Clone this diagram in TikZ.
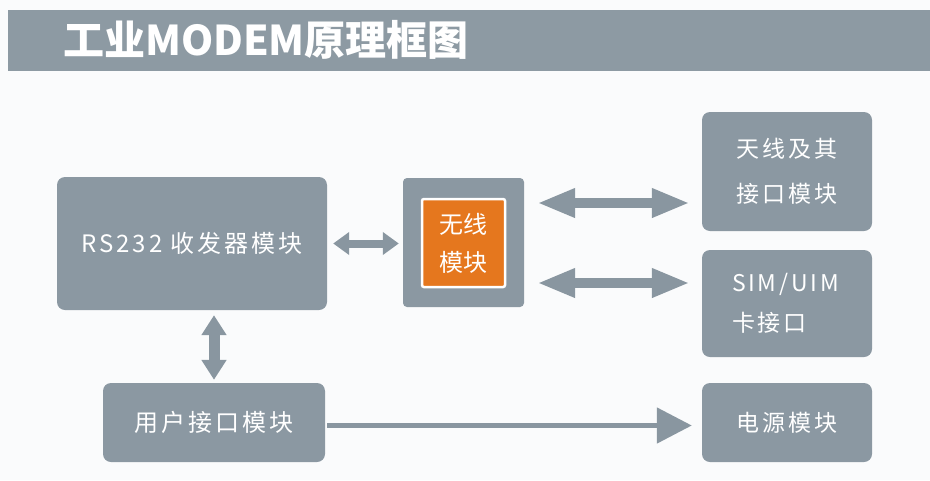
\documentclass[tikz,border=0pt]{standalone}
\usepackage{fontspec}
\usetikzlibrary{arrows.meta}
\newfontfamily\cjk{Noto Sans CJK SC}
\newfontfamily\cjksp[LetterSpace=12]{Noto Sans CJK SC}
\definecolor{boxgray}{HTML}{8B98A2}
\definecolor{bargray}{HTML}{8D9AA3}
\definecolor{arrgray}{HTML}{8996A0}
\definecolor{orng}{HTML}{E5771E}
\definecolor{bg}{HTML}{FAFBFC}
\tikzset{
  blk/.style={rectangle, fill=boxgray, rounded corners=8pt, inner sep=0pt, text=white,
    font=\cjksp\fontsize{24}{40}\selectfont, align=center},
  bigdbl/.style={draw=arrgray, line width=10pt, {Triangle[length=38pt,width=27pt]}-{Triangle[length=38pt,width=27pt]}},
}
\begin{document}
\begin{tikzpicture}[x=1pt,y=-1pt]
\useasboundingbox (0,0) rectangle (930,480);
\fill[bg] (0,0) rectangle (930,480);
% title bar
\fill[bargray] (8,9.5) rectangle (930,71);
\node[text=white, font=\cjk\bfseries\fontsize{41}{44}\selectfont, inner sep=0pt] (title) at (266,40) {工业MODEM原理框图};
% boxes
\node[blk, minimum width=270pt, minimum height=133pt] (rs) at (192,243.5) {RS232 收发器模块};
\node[blk, rounded corners=4pt, minimum width=121pt, minimum height=129pt] (wl) at (463.5,242.5) {};
\node[rectangle, fill=orng, draw=white, line width=2.5pt, rounded corners=2pt, inner sep=0pt,
  minimum width=83pt, minimum height=88pt, text=white, align=center,
  font=\cjk\fontsize{24}{38}\selectfont] (wlin) at (463.5,243) {无线\\模块};
\node[blk, minimum width=170pt, minimum height=119pt, font=\cjksp\fontsize{23}{45}\selectfont] (ant) at (787,171.5) {天线及其\\接口模块};
\node[blk, minimum width=170pt, minimum height=107pt, font=\cjksp\fontsize{23}{40}\selectfont,
  text width=110pt, align=left] (sim) at (787,303.5) {SIM/UIM\\卡接口};
\node[blk, minimum width=170pt, minimum height=79pt, font=\cjksp\fontsize{23}{40}\selectfont] (pw) at (787,422.5) {电源模块};
\node[blk, minimum width=222pt, minimum height=79pt] (us) at (214,422.5) {用户接口模块};
% connectors
\draw[draw=arrgray, line width=8pt, {Triangle[length=16pt,width=22pt]}-{Triangle[length=16pt,width=22pt]},
  shorten <=6pt, shorten >=4pt] (rs.east) -- (wl.west |- rs.east);
\draw[bigdbl, shorten <=13pt, shorten >=12pt] ([yshift=39.5pt]wl.east) coordinate (a1) -- (a1 -| ant.west);
\draw[bigdbl, shorten <=13pt, shorten >=12pt] ([yshift=-40.5pt]wl.east) coordinate (a2) -- (a2 -| sim.west);
\draw[draw=arrgray, line width=11pt, {Triangle[length=20pt,width=24pt]}-{Triangle[length=20pt,width=24pt]},
  shorten <=3pt, shorten >=5pt] (us.north) -- (us.north |- rs.south);
\draw[draw=arrgray, line width=5pt, -{Triangle[length=35pt,width=35pt]},
  shorten <=2pt, shorten >=10pt] ([yshift=-3pt]us.east) coordinate (a3) -- (a3 -| pw.west);
\end{tikzpicture}
\end{document}
